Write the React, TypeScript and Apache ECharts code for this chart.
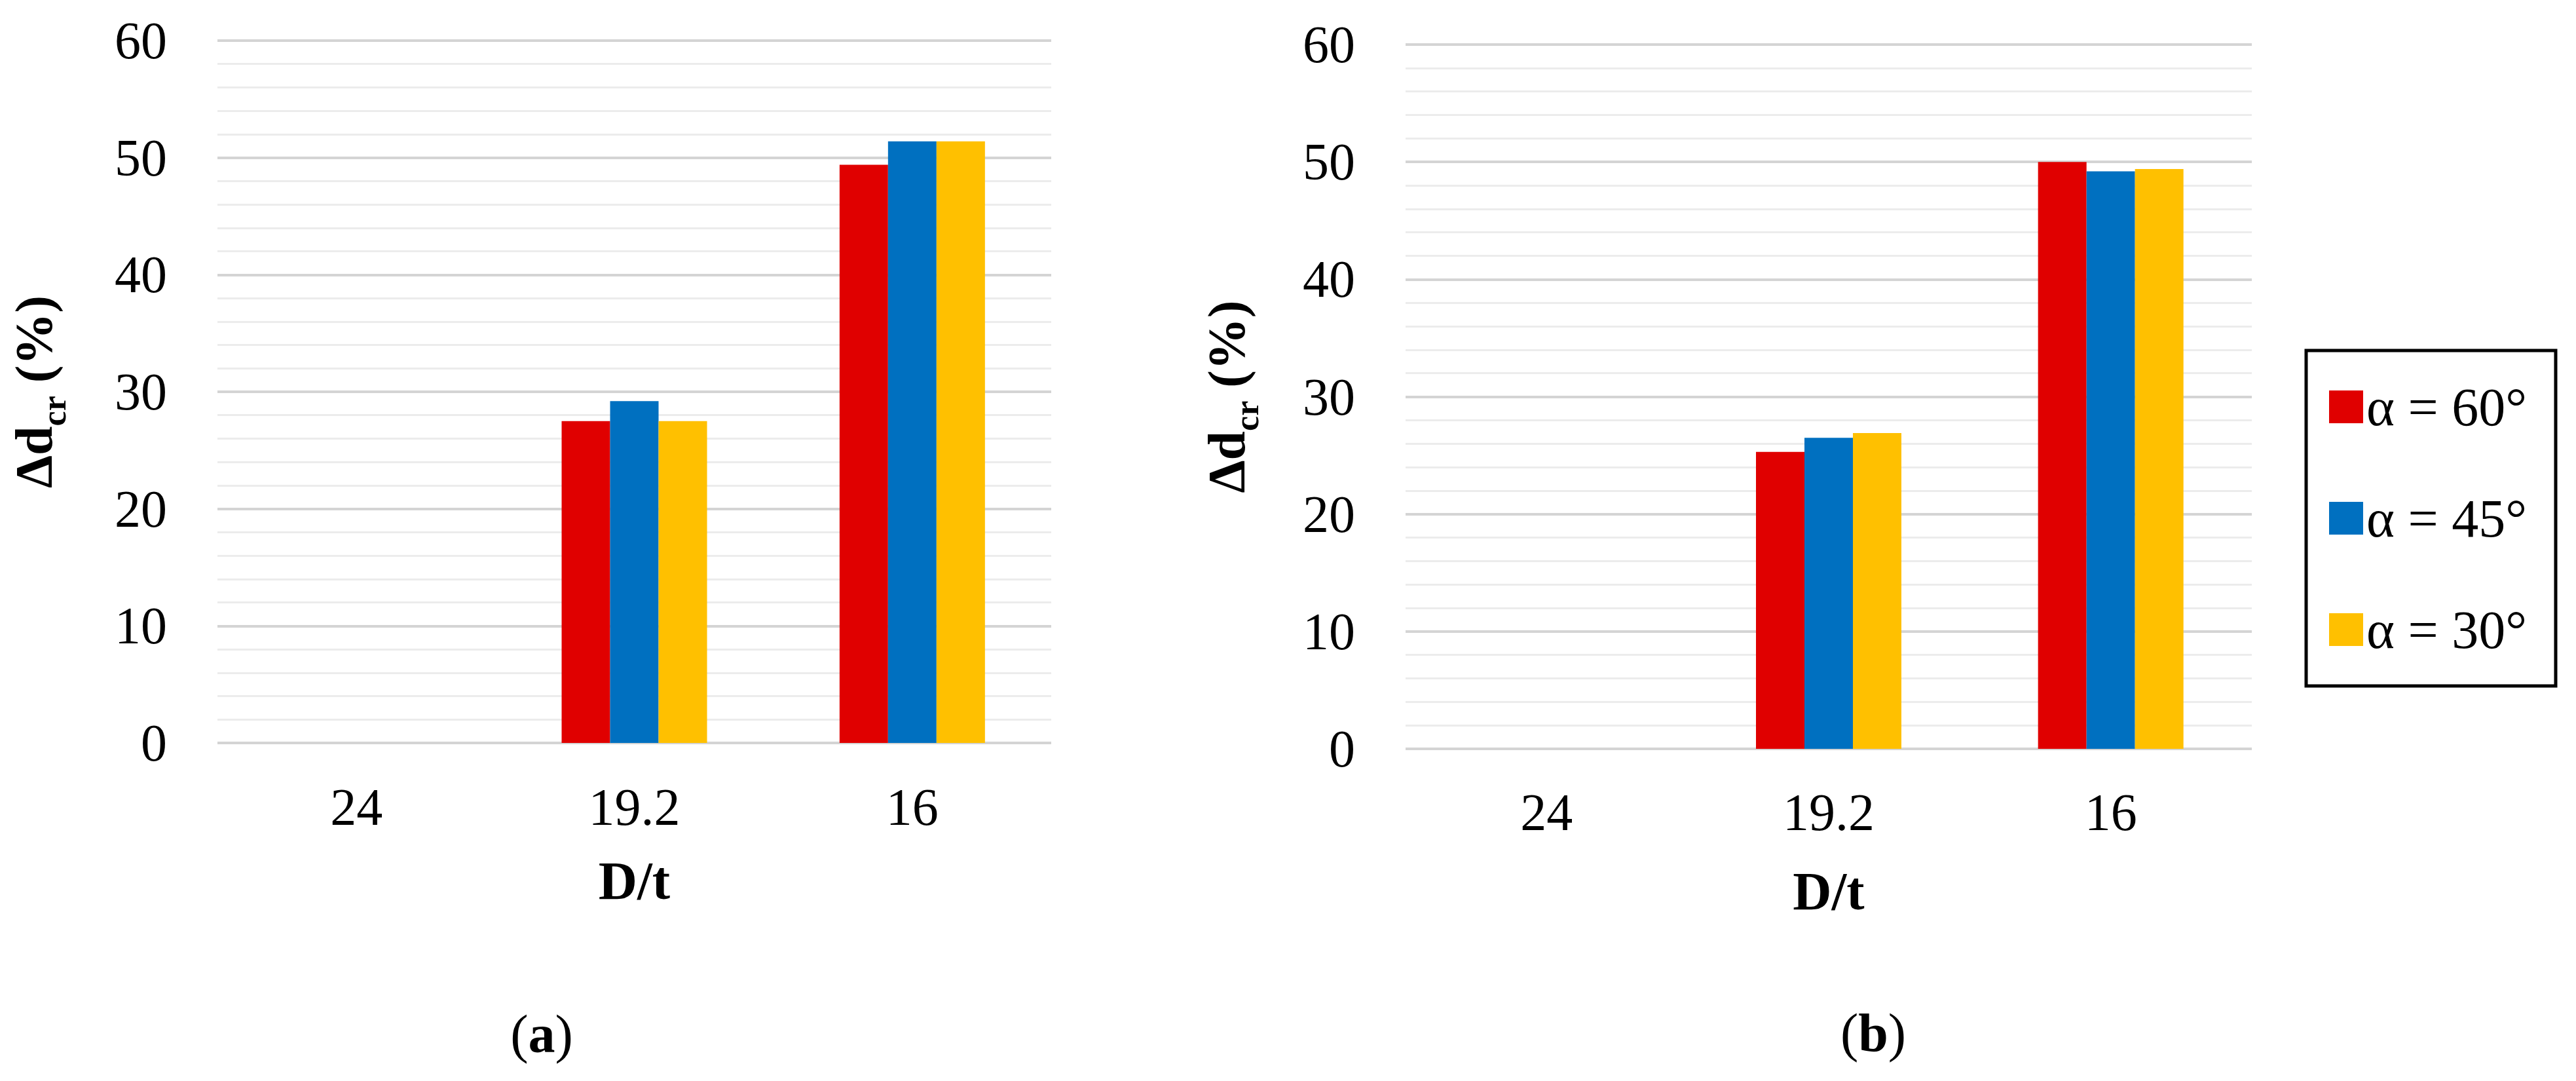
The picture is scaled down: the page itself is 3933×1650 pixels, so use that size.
import React, { useEffect, useRef } from 'react';
import * as echarts from 'echarts';

// ---- data ----
const categories = ['24', '19.2', '16'];
const legendNames = ['α = 60°', 'α = 45°', 'α = 30°'];
const barColors = ['#E00000', '#0070C0', '#FFC000'];

// panel (a)
const a60 = [0, 27.5, 49.4];
const a45 = [0, 29.2, 51.4];
const a30 = [0, 27.5, 51.4];
// panel (b)
const b60 = [0, 25.3, 50.0];
const b45 = [0, 26.5, 49.2];
const b30 = [0, 26.9, 49.4];

const yMin = 0;
const yMax = 60;
const yStep = 10;
const xTitle = 'D/t';
const panelLabels = ['a', 'b'];

const FONT = "'Liberation Serif', 'Times New Roman', serif";

export default function App() {
  const ref = useRef<HTMLDivElement>(null);

  useEffect(() => {
    document.body.style.margin = '0';
    const chart = echarts.init(ref.current as HTMLDivElement, null, { renderer: 'svg' });

    const yAxisBase = (nameGap: number) => ({
      type: 'value',
      min: yMin,
      max: yMax,
      interval: yStep,
      axisLine: { show: false },
      axisTick: { show: false },
      axisLabel: { fontSize: 80, fontFamily: FONT, color: '#000', margin: 77 },
      splitLine: { show: true, lineStyle: { color: '#d4d4d4', width: 4 } },
      minorTick: { show: false, splitNumber: 5 },
      minorSplitLine: { show: true, lineStyle: { color: '#ececec', width: 3 } },
      name: '{m|Δd}{s|cr}{m| (%)}',
      nameLocation: 'middle',
      nameRotate: 90,
      nameGap,
      nameTextStyle: {
        rich: {
          m: { fontSize: 80, fontWeight: 'bold', fontFamily: FONT, color: '#000', lineHeight: 96, verticalAlign: 'top' },
          s: { fontSize: 52, fontWeight: 'bold', fontFamily: FONT, color: '#000', lineHeight: 40, verticalAlign: 'bottom' },
        },
      },
    });

    const xAxisBase = (labelMargin: number, nameGap: number) => ({
      type: 'category',
      data: categories,
      axisLine: { show: false },
      axisTick: { show: false },
      axisLabel: { fontSize: 80, fontFamily: FONT, color: '#000', margin: labelMargin, lineHeight: 80 },
      name: xTitle,
      nameLocation: 'middle',
      nameGap,
      nameTextStyle: { fontSize: 82, fontWeight: 'bold', fontFamily: FONT, color: '#000', lineHeight: 82 },
    });

    const mkSeries = (name: string, data: number[], color: string, idx: number) => ({
      type: 'bar',
      name,
      data,
      xAxisIndex: idx,
      yAxisIndex: idx,
      barWidth: 74,
      barGap: '0%',
      itemStyle: { color },
    });

    const caption = (label: string, x: number, y: number) => ({
      type: 'text',
      x,
      y,
      style: {
        text: `{p|(}{b|${label}}{p|)}`,
        align: 'center',
        verticalAlign: 'middle',
        rich: {
          p: { fontSize: 82, fontFamily: FONT, fill: '#000' },
          b: { fontSize: 82, fontFamily: FONT, fontWeight: 'bold', fill: '#000' },
        },
      },
    });

    const option = {
      animation: false,
      backgroundColor: '#ffffff',
      grid: [
        { left: 332, top: 62, width: 1273, height: 1072 },
        { left: 2146, top: 68, width: 1292, height: 1075 },
      ],
      xAxis: [
        { ...xAxisBase(58, 169), gridIndex: 0 },
        { ...xAxisBase(57, 176), gridIndex: 1 },
      ],
      yAxis: [
        { ...yAxisBase(224), gridIndex: 0 },
        { ...yAxisBase(217), gridIndex: 1 },
      ],
      legend: {
        orient: 'vertical',
        left: 3521,
        top: 535,
        itemWidth: 52,
        itemHeight: 50,
        itemGap: 88,
        padding: [45, 44, 45, 35],
        borderColor: '#000',
        borderWidth: 5,
        icon: 'rect',
        selectedMode: false,
        data: legendNames,
        textStyle: { fontSize: 82, fontFamily: FONT, color: '#000', lineHeight: 50 },
      },
      series: [
        mkSeries(legendNames[0], a60, barColors[0], 0),
        mkSeries(legendNames[1], a45, barColors[1], 0),
        mkSeries(legendNames[2], a30, barColors[2], 0),
        mkSeries(legendNames[0], b60, barColors[0], 1),
        mkSeries(legendNames[1], b45, barColors[1], 1),
        mkSeries(legendNames[2], b30, barColors[2], 1),
      ],
      graphic: [caption(panelLabels[0], 827, 1578), caption(panelLabels[1], 2860, 1576)],
    };

    chart.setOption(option as any);
    return () => chart.dispose();
  }, []);

  return (
    <div
      ref={ref}
      style={{ position: 'absolute', left: 0, top: 0, width: 3933, height: 1650, background: '#fff' }}
    />
  );
}
